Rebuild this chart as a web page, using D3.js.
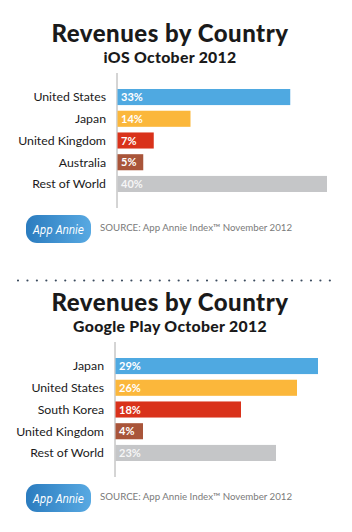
<!DOCTYPE html>
<html>
<head>
<meta charset="utf-8">
<script src="https://cdn.jsdelivr.net/npm/d3@7"></script>
<style>
  html, body { margin:0; padding:0; background:#fff; }
  svg { display:block; }
  .title    { font-family: Lato, "Open Sans", sans-serif; font-weight:900; fill:#1a1a1a; }
  .subtitle { font-family: Lato, "Open Sans", sans-serif; font-weight:900; fill:#1a1a1a; }
  .tick text { font-family: Lato, "Noto Sans", sans-serif; font-size:12.3px; fill:#1a1a1a; }
  .val      { font-family: Lato, sans-serif; font-weight:700; font-size:11px; fill:#fff; }
  .source   { font-family: Lato, "Noto Sans", sans-serif; font-size:9.7px; fill:#7a7a7a; }
  .logo     { font-family: "DejaVu Sans Condensed", "DejaVu Sans", sans-serif; font-style:italic; font-size:13px; fill:#fff; }
</style>
</head>
<body>
<svg id="chart"></svg>
<script>
/* data */
const iosCountries   = ["United States","Japan","United Kingdom","Australia","Rest of World"];
const iosShares      = [33, 14, 7, 5, 40];
const gplayCountries = ["Japan","United States","South Korea","United Kingdom","Rest of World"];
const gplayShares    = [29, 26, 18, 4, 23];
const barColors      = ["#4fa9e1","#fbb73b","#d9321b","#a9553a","#c5c6c8"];
const titles         = ["Revenues by Country","Revenues by Country"];
const subtitles      = ["iOS October 2012","Google Play October 2012"];
const sourceText     = "SOURCE: App Annie Index\u2122 November 2012";

const W = 352, H = 532;
const svg = d3.select("#chart").attr("width", W).attr("height", H);

const defs = svg.append("defs");
const grad = defs.append("linearGradient").attr("id","logoGrad");
grad.append("stop").attr("offset","0%").attr("stop-color","#2b7cbf");
grad.append("stop").attr("offset","100%").attr("stop-color","#58a9e2");

/* one panel = title block + bars + logo/source */
function panel(top, cats, vals, title, sub, left, pxPerPct){
  const g = svg.append("g");

  g.append("text").attr("class","title")
    .attr("x",170).attr("y",top+42).attr("text-anchor","middle")
    .attr("font-size",24).attr("letter-spacing",0.5).text(title);
  g.append("text").attr("class","subtitle")
    .attr("x",170).attr("y",top+62.5).attr("text-anchor","middle")
    .attr("font-size",15.8).attr("letter-spacing",0.3).text(sub);

  const maxV = d3.max(vals);
  const x = d3.scaleLinear().domain([0,maxV]).range([left, left + maxV*pxPerPct]);
  const y = d3.scaleBand().domain(cats).range([top+89, top+192]).paddingInner(0.26);

  /* vertical baseline */
  g.append("line")
    .attr("x1",x(0)).attr("x2",x(0))
    .attr("y1",top+73).attr("y2",top+208)
    .attr("stroke","#aaaaaa").attr("stroke-width",1);

  g.append("g").selectAll("rect")
    .data(cats).join("rect")
    .attr("x",x(0)+0.5)
    .attr("y",d=>y(d))
    .attr("width",(d,i)=>x(vals[i])-x(0)-0.5)
    .attr("height",y.bandwidth())
    .attr("fill",(d,i)=>barColors[i]);

  g.append("g").selectAll("text")
    .data(cats).join("text")
    .attr("class","val")
    .attr("x",x(0)+4)
    .attr("y",d=>y(d)+y.bandwidth()/2+4)
    .attr("fill-opacity",(d,i)=>i===4?0.85:1)
    .text((d,i)=>vals[i]+"%");

  const ax = g.append("g")
    .attr("transform",`translate(${x(0)},0)`)
    .call(d3.axisLeft(y).tickSize(0).tickPadding(11));
  ax.select(".domain").remove();
  ax.selectAll(".tick text").attr("dy","0.35em");

  /* logo + source */
  const ly = top+215;
  g.append("rect").attr("x",26).attr("y",ly).attr("width",65).attr("height",28)
    .attr("rx",11).attr("fill","url(#logoGrad)");
  g.append("text").attr("class","logo")
    .attr("x",33).attr("y",ly+19)
    .attr("textLength",51).attr("lengthAdjust","spacingAndGlyphs")
    .text("App Annie");
  g.append("text").attr("class","source")
    .attr("x",100).attr("y",ly+16).text(sourceText);
}

panel(0,   iosCountries,   iosShares,   titles[0], subtitles[0], 117, 5.25);
panel(269, gplayCountries, gplayShares, titles[1], subtitles[1], 115, 7.0);

/* dotted separator */
svg.append("line")
  .attr("x1",18).attr("x2",332).attr("y1",280.5).attr("y2",280.5)
  .attr("stroke","#3d4d60").attr("stroke-width",2.2)
  .attr("stroke-linecap","round").attr("stroke-dasharray","0 9.45");
</script>
</body>
</html>
